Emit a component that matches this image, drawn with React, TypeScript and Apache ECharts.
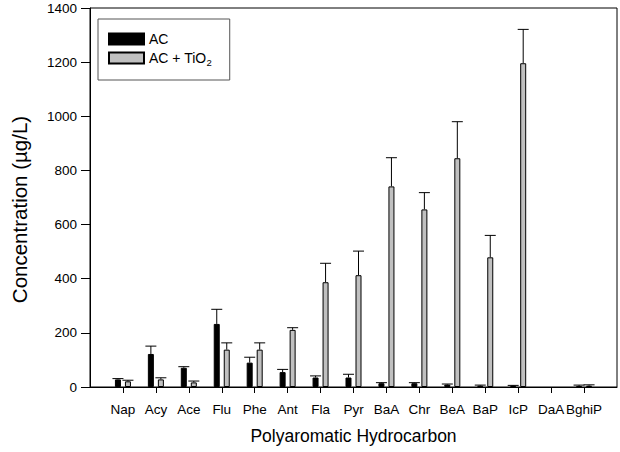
import React, { useEffect, useRef } from 'react';
import * as echarts from 'echarts';

const categories = ['Nap', 'Acy', 'Ace', 'Flu', 'Phe', 'Ant', 'Fla', 'Pyr', 'BaA', 'Chr', 'BeA', 'BaP', 'IcP', 'DaA', 'BghiP'];
const acValues: (number | null)[] = [28, 122, 71, 233, 90, 55, 35, 35, 14, 14, 9, 5, 5, null, 4];
const acErrors: (number | null)[] = [3, 29, 4, 54, 20, 10, 6, 12, 2, 2, 2, 2, 1, null, 3];
const tioValues: (number | null)[] = [21, 28, 17, 138, 138, 211, 387, 413, 741, 656, 845, 479, 1196, null, 5];
const tioErrors: (number | null)[] = [4, 6, 5, 25, 25, 8, 70, 89, 106, 62, 135, 81, 125, null, 3];
const yMin = 0;
const yMax = 1400;
const yInterval = 200;

const FONT = "'Liberation Sans', Arial, sans-serif";
const BAR_W = 6;
const BAR_OFFSET = 5;
const CAP_HALF = 5.5;

function padded<T>(arr: T[], fill: T): T[] {
  return [fill, ...arr, fill];
}

function errorSeries(name: string, values: (number | null)[], errors: (number | null)[], offset: number) {
  const data: number[][] = [];
  values.forEach((v, i) => {
    if (v !== null && errors[i] !== null) data.push([i + 1, v, errors[i] as number]);
  });
  return {
    type: 'custom',
    name,
    data,
    z: 5,
    encode: { x: 0, y: 1 },
    renderItem: (_params: any, api: any) => {
      const idx = api.value(0);
      const v = api.value(1);
      const e = api.value(2);
      const base = api.coord([idx, v]);
      const top = api.coord([idx, v + e]);
      const x = base[0] + offset;
      return {
        type: 'group',
        children: [
          { type: 'line', shape: { x1: x, y1: base[1], x2: x, y2: top[1] }, style: { stroke: '#000', lineWidth: 1 } },
          { type: 'line', shape: { x1: x - CAP_HALF, y1: top[1], x2: x + CAP_HALF, y2: top[1] }, style: { stroke: '#000', lineWidth: 1 } },
        ],
      };
    },
  };
}

export default function App() {
  const ref = useRef<HTMLDivElement>(null);
  useEffect(() => {
    document.body.style.margin = '0';
    if (!ref.current) return;
    const chart = echarts.init(ref.current, undefined, { renderer: 'svg' });
    const axisCats = padded(categories, '');
    chart.setOption({
      animation: false,
      backgroundColor: '#fff',
      textStyle: { fontFamily: FONT },
      grid: { left: 90, right: 3, top: 8, bottom: 65, show: true, borderColor: '#000', borderWidth: 1 },
      legend: {
        orient: 'vertical',
        left: 98,
        top: 19,
        data: ['AC', 'AC + TiO2'],
        icon: 'rect',
        itemWidth: 35,
        itemHeight: 11,
        itemGap: 5,
        padding: [13, 18, 13, 10],
        borderColor: '#555',
        borderWidth: 1,
        formatter: (name: string) => (name === 'AC + TiO2' ? 'AC + TiO{sub|2}' : name),
        textStyle: {
          fontFamily: FONT,
          fontSize: 14,
          color: '#000',
          rich: { sub: { fontFamily: FONT, fontSize: 9.5, color: '#000', padding: [8, 0, 0, 0] } },
        },
      },
      xAxis: {
        type: 'category',
        data: axisCats,
        boundaryGap: false,
        name: 'Polyaromatic Hydrocarbon',
        nameLocation: 'middle',
        nameGap: 40,
        nameTextStyle: { fontFamily: FONT, fontSize: 17.5, color: '#000' },
        axisLine: { lineStyle: { color: '#000', width: 1 } },
        axisTick: { length: 6, lineStyle: { color: '#000' }, interval: (i: number) => i !== 0 && i !== axisCats.length - 1 },
        axisLabel: { interval: 0, margin: 15, fontFamily: FONT, fontSize: 13.5, color: '#000' },
        splitLine: { show: false },
      },
      yAxis: {
        type: 'value',
        min: yMin,
        max: yMax,
        interval: yInterval,
        name: 'Concentration (µg/L)',
        nameLocation: 'middle',
        nameGap: 60,
        nameTextStyle: { fontFamily: FONT, fontSize: 20.5, color: '#000', padding: [0, 24, 0, 0] },
        axisLine: { show: true, lineStyle: { color: '#000', width: 1 } },
        axisTick: { show: true, length: 9, lineStyle: { color: '#000' } },
        axisLabel: { margin: 13, fontFamily: FONT, fontSize: 13.5, color: '#000', formatter: (v: number) => String(v) },
        splitLine: { show: false },
      },
      series: [
        {
          type: 'bar',
          name: 'AC',
          data: padded(acValues, null),
          barWidth: BAR_W,
          barGap: '66.67%',
          itemStyle: { color: '#000', borderColor: '#000', borderWidth: 1 },
        },
        {
          type: 'bar',
          name: 'AC + TiO2',
          data: padded(tioValues, null),
          barWidth: BAR_W,
          itemStyle: { color: '#c0c0c0', borderColor: '#000', borderWidth: 1 },
        },
        errorSeries('AC error', acValues, acErrors, -BAR_OFFSET),
        errorSeries('AC + TiO2 error', tioValues, tioErrors, BAR_OFFSET),
      ],
    });
    return () => chart.dispose();
  }, []);
  return <div ref={ref} style={{ width: 620, height: 452 }} />;
}
